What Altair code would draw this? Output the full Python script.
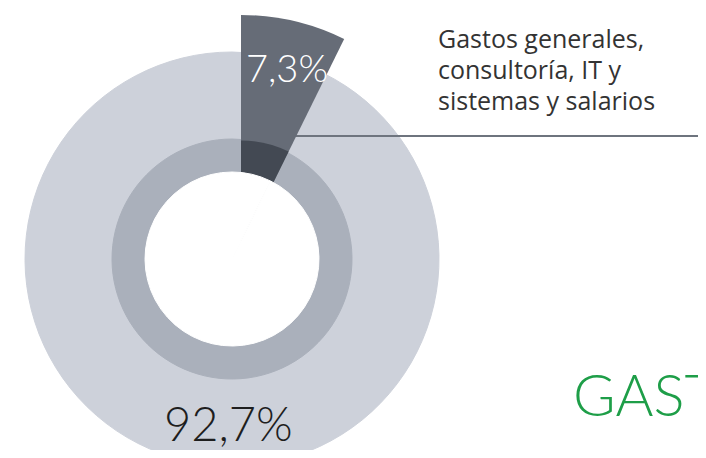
import altair as alt
import pandas as pd

# ---- data ----
categories = ["Gastos generales, consultoría, IT y sistemas y salarios", "Resto de gastos"]
values = [7.3, 92.7]
value_labels = ["7,3%", "92,7%"]
label_lines = ["Gastos generales,", "consultoría, IT y", "sistemas y salarios"]
section_title = "GASTOS"

df = pd.DataFrame({
    "categoria": categories,
    "valor": values,
    "etiqueta": value_labels,
    "orden": [0, 1],
})

# ---- layout / style ----
CX, CY = 224, 251      # donut centre
EX, EY = 233, 240      # exploded slice apex
LIGHT = "#CDD1DA"
MID = "#AAB0BB"
SLICE = "#666C77"
SLICE_DARK = "#434953"
LINE = "#6E747E"
GREEN = "#1E9E48"
FONT = "Lato"

base = alt.Chart(df).encode(
    theta=alt.Theta("valor:Q", stack=True),
    order=alt.Order("orden:Q"),
)
is_slice = alt.datum.orden == 0
only_slice = alt.condition(is_slice, alt.value(1), alt.value(0))

disc = base.mark_arc(radius=207, x=CX, y=CY, color=LIGHT, stroke=LIGHT, strokeWidth=1)
ring = base.mark_arc(radius=120, x=CX, y=CY, color=MID, stroke=MID, strokeWidth=1)

leader = alt.Chart(df).transform_filter(is_slice).mark_rule(
    color=LINE, strokeWidth=2
).encode(x=alt.value(277), x2=alt.value(690), y=alt.value(128))

slice_outer = base.mark_arc(radius=233, x=EX, y=EY, color=SLICE).encode(opacity=only_slice)
slice_inner = base.mark_arc(radius=107.5, x=EX, y=EY, color=SLICE_DARK).encode(opacity=only_slice)
hole = base.mark_arc(radius=87, x=CX, y=CY, color="white", stroke="white", strokeWidth=1)

pct_small = alt.Chart(df).transform_filter(is_slice).mark_text(
    align="left", baseline="alphabetic", font=FONT, fontWeight=300, fontSize=38, color="white"
).encode(text="etiqueta:N", x=alt.value(238), y=alt.value(74))

pct_big = alt.Chart(df).transform_filter(alt.datum.orden == 1).mark_text(
    align="left", baseline="alphabetic", font=FONT, fontWeight=300, fontSize=47, color="#1E1E1E"
).encode(text="etiqueta:N", x=alt.value(156), y=alt.value(433))

label = alt.Chart(df).transform_filter(is_slice).mark_text(
    text=label_lines, align="left", baseline="alphabetic", font="Open Sans",
    fontSize=25, lineHeight=31, color="#333333"
).encode(x=alt.value(430), y=alt.value(40))

title = alt.Chart(df).transform_filter(is_slice).mark_text(
    text=section_title, align="left", baseline="alphabetic", font=FONT, fontWeight=300,
    fontSize=58, color=GREEN
).encode(x=alt.value(565), y=alt.value(408))

chart = alt.layer(
    disc, ring, leader, slice_outer, slice_inner, hole, pct_small, pct_big, label, title
).properties(
    width=690, height=442, padding=0, autosize=alt.AutoSizeParams(type="none"),
    background="white",
).configure_view(stroke=None)

chart.save("out.html", embed_options={"renderer": "svg", "actions": False})
